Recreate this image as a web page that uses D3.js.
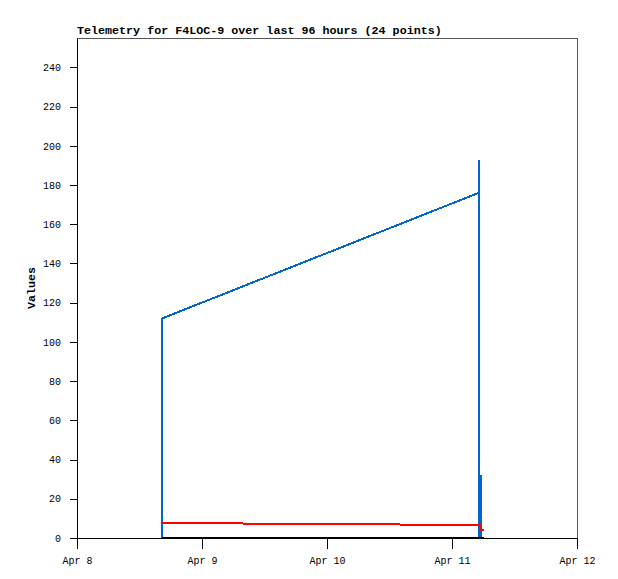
<!DOCTYPE html>
<html>
<head>
<meta charset="utf-8">
<script src="https://cdnjs.cloudflare.com/ajax/libs/d3/7.8.5/d3.min.js"></script>
<style>
  body { margin: 0; background: #fff; }
  svg { display: block; }
</style>
</head>
<body>
<svg width="618" height="579"></svg>
<script>
// chart values
var times = [
  "2024-04-08T16:18", "2024-04-08T16:21", "2024-04-11T05:06", "2024-04-11T05:09",
  "2024-04-11T05:12", "2024-04-11T05:15", "2024-04-11T05:18", "2024-04-11T05:21",
  "2024-04-11T05:24", "2024-04-11T05:27", "2024-04-11T05:30", "2024-04-11T05:33",
  "2024-04-11T05:36", "2024-04-11T05:39", "2024-04-11T05:42", "2024-04-11T05:45",
  "2024-04-11T05:48", "2024-04-11T05:51", "2024-04-11T05:54", "2024-04-11T05:57",
  "2024-04-11T06:00", "2024-04-11T06:03", "2024-04-11T06:06", "2024-04-11T06:09"
];
var blueValues  = [0, 112, 176, 193, 0, 0, 0, 0, 0, 0, 0, 32, 0, 0, 0, 0, 0, 0, 0, 0, 0, 0, 0, 0];
var redValues   = [7.65, 7.65, 6.63, 6.63, 6.63, 6.63, 6.63, 6.63, 6.63, 6.63, 6.63, 6.63, 6.63, 4.3, 4.3, 4.3, 4.3, 4.3, 4.3, 4.3, 4.3, 4.3, 4.3, 4.3];
var blackValues = [0, 0, 0, 0, 0, 0, 0, 0, 0, 0, 0, 0, 0, 0, 0, 0, 0, 0, 0, 0, 0, 0, 0, 0];
var yTicks = [0, 20, 40, 60, 80, 100, 120, 140, 160, 180, 200, 220, 240];
var xDomain = ["2024-04-08T00:00", "2024-04-12T00:00"];
var titleText = "Telemetry for F4LOC-9 over last 96 hours (24 points)";

var svg = d3.select('svg');
var parse = d3.timeParse("%Y-%m-%dT%H:%M");
var dates = times.map(parse);

// plot box edges (top/left would clash with window globals)
var plotLeft = 77, plotRight = 577, plotTop = 38, plotBottom = 538;

var scaleX = d3.scaleTime().domain(xDomain.map(parse)).range([plotLeft, plotRight]);
var scaleY = d3.scaleLinear().domain([0, 255]).range([plotBottom, plotTop]);

// gray frame on top and right
svg.append('path')
    .attr('d', 'M' + plotLeft + ',' + (plotTop + 0.5) + 'H' + (plotRight + 0.5) + 'V' + plotBottom)
    .attr('fill', 'none')
    .attr('stroke', '#555')
    .attr('shape-rendering', 'crispEdges');

// series lines, drawn non antialiased like the original
function drawSeries(values, color){
    var line = d3.line()
        .x(function(d, i){ return scaleX(dates[i]); })
        .y(function(d){ return scaleY(d); });
    svg.append('path')
        .datum(values)
        .attr('d', line)
        .attr('fill', 'none')
        .attr('stroke', color)
        .attr('stroke-width', 2)
        .attr('shape-rendering', 'crispEdges');
}
drawSeries(blueValues, '#0066cc');
drawSeries(redValues, '#ff0000');
drawSeries(blackValues, '#000000');

// y axis
svg.append('g')
    .attr('transform', 'translate(' + plotLeft + ',0)')
    .call(d3.axisLeft(scaleY).tickValues(yTicks).tickSize(7).tickSizeOuter(0).tickPadding(9));

// x axis
svg.append('g')
    .attr('transform', 'translate(0,' + plotBottom + ')')
    .call(d3.axisBottom(scaleX).ticks(d3.timeDay.every(1)).tickFormat(d3.timeFormat('%b %-d'))
        .tickSize(11).tickSizeOuter(0).tickPadding(8));

svg.selectAll('.domain, .tick line')
    .attr('stroke', '#000')
    .attr('shape-rendering', 'crispEdges');
svg.selectAll('.tick text')
    .style('font-family', '"Liberation Mono", "DejaVu Sans Mono", monospace')
    .style('font-size', '10px')
    .attr('fill', '#000');

// title
svg.append('text')
    .text(titleText)
    .attr('x', plotLeft)
    .attr('y', 34)
    .style('font-family', '"Liberation Mono", "DejaVu Sans Mono", monospace')
    .style('font-weight', 'bold')
    .style('font-size', '11.7px');

// y axis label
svg.append('text')
    .text('Values')
    .attr('transform', 'translate(35,' + ((plotTop + plotBottom) / 2) + ')rotate(270)')
    .style('text-anchor', 'middle')
    .style('font-family', '"Liberation Mono", "DejaVu Sans Mono", monospace')
    .style('font-weight', 'bold')
    .style('font-size', '11.7px');
</script>
</body>
</html>
